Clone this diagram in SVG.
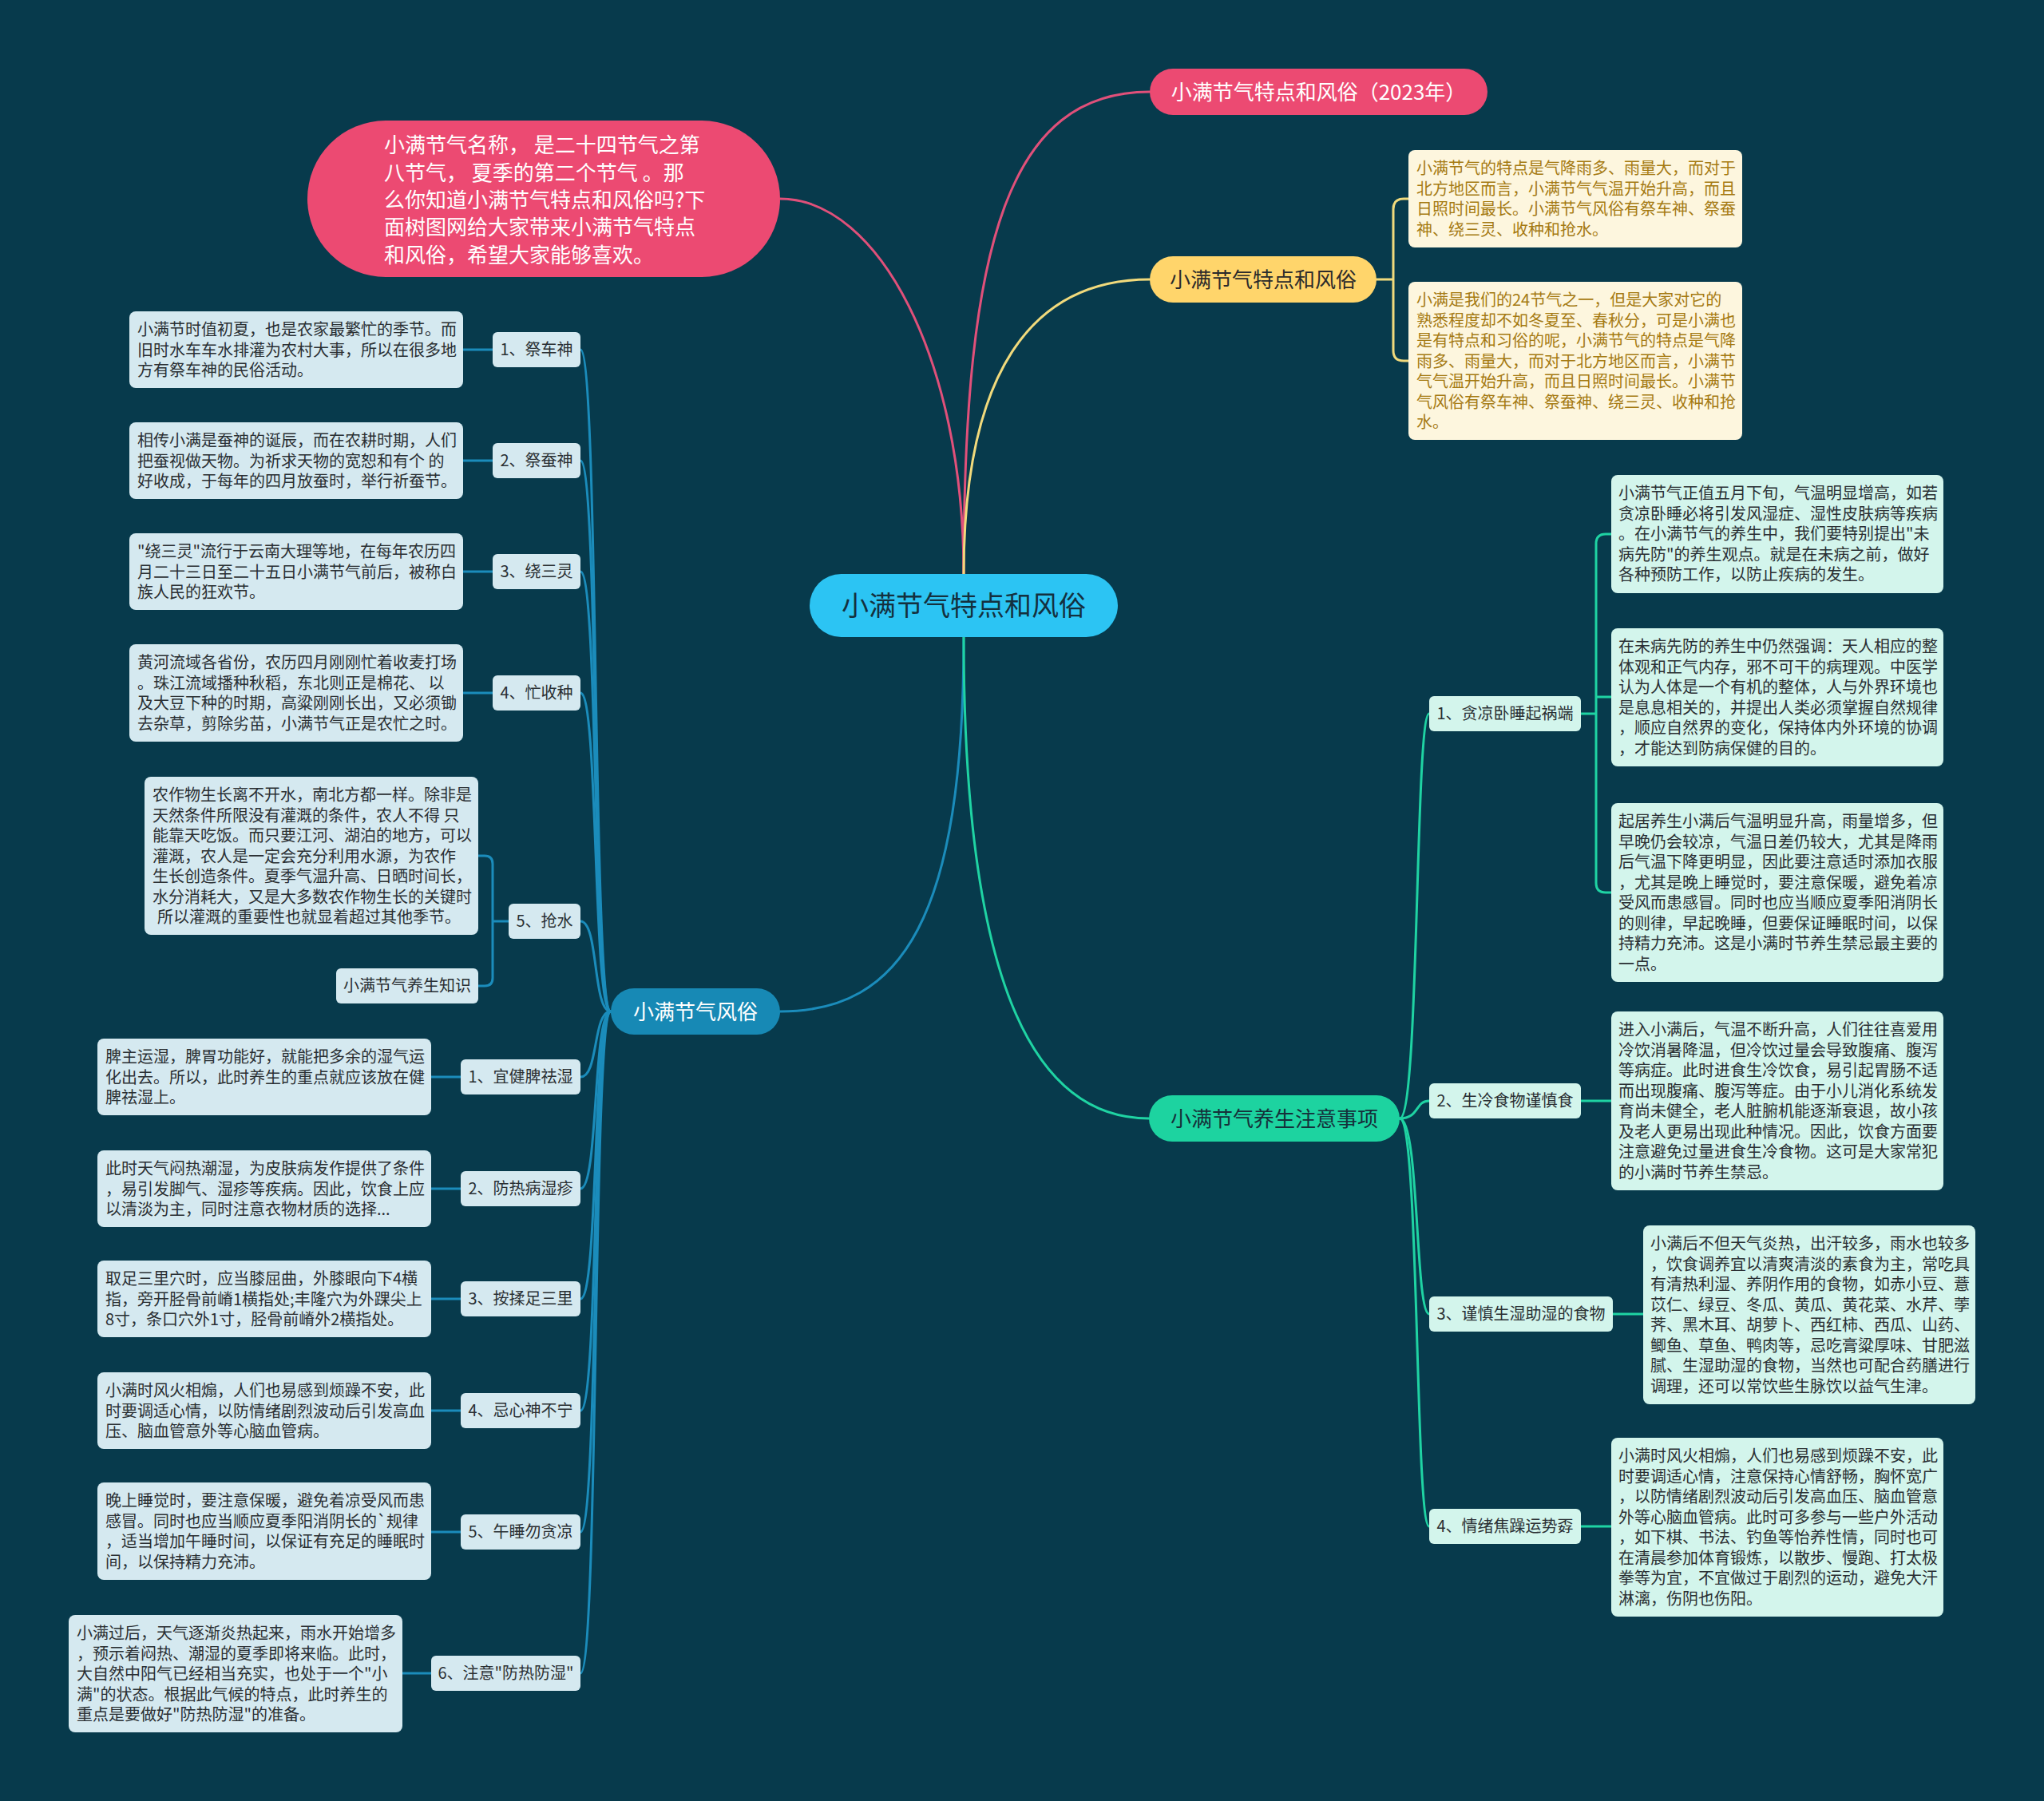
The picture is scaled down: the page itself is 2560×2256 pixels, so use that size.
<svg xmlns="http://www.w3.org/2000/svg" width="2560" height="2256" viewBox="0 0 2560 2256">
<style>
text{font-family:"Noto Sans CJK SC","Noto Sans",sans-serif;}
.t{font-size:20px;fill:#2a2f33;}
.tc{font-size:20px;fill:#2a2f33;text-anchor:middle;}
.yt{font-size:20px;fill:#a57a12;}
.lb{fill:#d5e9f0;}
.gb{fill:#d3f5ec;}
.yb{fill:#fdf6de;}
.c{fill:none;stroke-width:3;stroke-linecap:round;}
.cb{stroke:#1b8cbb;}
.cg{stroke:#1fd3a3;}
.cy{stroke:#f1da7c;}
.cp{stroke:#e0507a;}
.big{font-size:26px;text-anchor:middle;}
</style>
<rect x="0" y="0" width="2560" height="2256" fill="#073a4c"/>

<g id="connectors">
  <path class="c cp" d="M1207 719 C1207 300 1265 115 1440 115"/>
  <path class="c cp" d="M1207 719 C1207 450 1100 249 977 249"/>
  <path class="c cy" d="M1207 719 C1207 470 1290 350 1440 350"/>
  <path class="c cb" d="M1207 798 C1207 1150 1130 1267 977 1267"/>
  <path class="c cg" d="M1207 798 C1207 1220 1290 1401 1439 1401"/>
  <!-- yellow bracket -->
  <path class="c cy" d="M1724 350 H1745 M1764 249 H1758 Q1745 249 1745 262 V439 Q1745 452 1758 452 H1764"/>
  <!-- left branches -->
  <path class="c cb" d="M765 1267 C742 1267 750 438 727 438"/>
  <path class="c cb" d="M765 1267 C742 1267 750 577 727 577"/>
  <path class="c cb" d="M765 1267 C742 1267 750 716 727 716"/>
  <path class="c cb" d="M765 1267 C742 1267 750 868 727 868"/>
  <path class="c cb" d="M765 1267 C742 1267 750 1154 727 1154"/>
  <path class="c cb" d="M765 1267 C742 1267 750 1349 727 1349"/>
  <path class="c cb" d="M765 1267 C742 1267 750 1489 727 1489"/>
  <path class="c cb" d="M765 1267 C742 1267 750 1627 727 1627"/>
  <path class="c cb" d="M765 1267 C742 1267 750 1767 727 1767"/>
  <path class="c cb" d="M765 1267 C742 1267 750 1919 727 1919"/>
  <path class="c cb" d="M765 1267 C742 1267 750 2096 727 2096"/>
  <path class="c cb" d="M580 438 H617 M580 577 H617 M580 716 H617 M580 868 H617"/>
  <path class="c cb" d="M540 1349 H577 M540 1489 H577 M540 1627 H577 M540 1767 H577 M540 1919 H577 M504 2096 H540"/>
  <path class="c cb" d="M637 1154 H617 M599 1072 H607 Q617 1072 617 1082 V1225 Q617 1235 607 1235 H599"/>
  <!-- right branches -->
  <path class="c cg" d="M1753 1401 C1778 1401 1772 894 1790 894"/>
  <path class="c cg" d="M1753 1401 C1778 1401 1772 1379 1790 1379"/>
  <path class="c cg" d="M1753 1401 C1778 1401 1772 1646 1790 1646"/>
  <path class="c cg" d="M1753 1401 C1778 1401 1772 1912 1790 1912"/>
  <path class="c cg" d="M1980 894 H1999 M2018 669 H2011 Q1999 669 1999 681 V1106 Q1999 1118 2011 1118 H2018 M1999 873 H2018"/>
  <path class="c cg" d="M1980 1379 H2018 M2020 1646 H2058 M1980 1912 H2018"/>
</g>

<g id="root">
  <rect x="1014" y="719" width="386" height="79" rx="39.5" fill="#2cc4f3"/>
  <text x="1207" y="771" font-size="34" text-anchor="middle" fill="#14303e">小满节气特点和风俗</text>
</g>

<g id="intro">
  <rect x="385" y="151" width="592" height="196" rx="98" fill="#ec4a72"/>
  <text font-size="26" fill="#ffffff">
    <tspan x="481" y="191">小满节气名称， 是二十四节气之第</tspan>
    <tspan x="481" y="225.5">八节气， 夏季的第二个节气 。那</tspan>
    <tspan x="481" y="260">么你知道小满节气特点和风俗吗?下</tspan>
    <tspan x="481" y="294">面树图网给大家带来小满节气特点</tspan>
    <tspan x="481" y="328.5">和风俗，希望大家能够喜欢。</tspan>
  </text>
</g>

<g id="n2023">
  <rect x="1440" y="86" width="423" height="58" rx="29" fill="#ec4a72"/>
  <text x="1651.5" y="125" class="big" fill="#ffffff">小满节气特点和风俗（2023年）</text>
</g>

<g id="nyellow">
  <rect x="1440" y="321" width="284" height="58" rx="29" fill="#ffd56b"/>
  <text x="1582" y="359.5" class="big" fill="#2b2b2b">小满节气特点和风俗</text>
</g>
<g id="ya">
  <rect class="yb" x="1764" y="188" width="418" height="122" rx="8"/>
  <text class="yt"><tspan x="1774" y="218">小满节气的特点是气降雨多、雨量大，而对于</tspan><tspan x="1774" y="243.5">北方地区而言，小满节气气温开始升高，而且</tspan><tspan x="1774" y="269">日照时间最长。小满节气风俗有祭车神、祭蚕</tspan><tspan x="1774" y="294.5">神、绕三灵、收种和抢水。</tspan></text>
</g>
<g id="yb">
  <rect class="yb" x="1764" y="353" width="418" height="198" rx="8"/>
  <text class="yt"><tspan x="1774" y="383">小满是我们的24节气之一，但是大家对它的</tspan><tspan x="1774" y="408.5">熟悉程度却不如冬夏至、春秋分，可是小满也</tspan><tspan x="1774" y="434">是有特点和习俗的呢，小满节气的特点是气降</tspan><tspan x="1774" y="459.5">雨多、雨量大，而对于北方地区而言，小满节</tspan><tspan x="1774" y="485">气气温开始升高，而且日照时间最长。小满节</tspan><tspan x="1774" y="510.5">气风俗有祭车神、祭蚕神、绕三灵、收种和抢</tspan><tspan x="1774" y="536">水。</tspan></text>
</g>

<g id="nfengsu">
  <rect x="765" y="1238" width="212" height="58" rx="29" fill="#1789b5"/>
  <text x="871" y="1277" class="big" fill="#ffffff">小满节气风俗</text>
</g>

<g id="nyangsheng">
  <rect x="1439" y="1372" width="314" height="58" rx="29" fill="#1dd3a0"/>
  <text x="1596" y="1411" class="big" fill="#15303a">小满节气养生注意事项</text>
</g>

<!-- left labels -->
<g id="l1"><rect class="lb" x="617" y="416" width="110" height="44" rx="6"/><text class="tc" x="672" y="445">1、祭车神</text></g>
<g id="l2"><rect class="lb" x="617" y="555" width="110" height="44" rx="6"/><text class="tc" x="672" y="584">2、祭蚕神</text></g>
<g id="l3"><rect class="lb" x="617" y="694" width="110" height="44" rx="6"/><text class="tc" x="672" y="723">3、绕三灵</text></g>
<g id="l4"><rect class="lb" x="617" y="846" width="110" height="44" rx="6"/><text class="tc" x="672" y="875">4、忙收种</text></g>
<g id="l5"><rect class="lb" x="637" y="1132" width="90" height="44" rx="6"/><text class="tc" x="682" y="1161">5、抢水</text></g>
<g id="l6"><rect class="lb" x="577" y="1327" width="150" height="44" rx="6"/><text class="tc" x="652" y="1356">1、宜健脾祛湿</text></g>
<g id="l7"><rect class="lb" x="577" y="1467" width="150" height="44" rx="6"/><text class="tc" x="652" y="1496">2、防热病湿疹</text></g>
<g id="l8"><rect class="lb" x="577" y="1605" width="150" height="44" rx="6"/><text class="tc" x="652" y="1634">3、按揉足三里</text></g>
<g id="l9"><rect class="lb" x="577" y="1745" width="150" height="44" rx="6"/><text class="tc" x="652" y="1774">4、忌心神不宁</text></g>
<g id="l10"><rect class="lb" x="577" y="1897" width="150" height="44" rx="6"/><text class="tc" x="652" y="1926">5、午睡勿贪凉</text></g>
<g id="l11"><rect class="lb" x="540" y="2074" width="187" height="44" rx="6"/><text class="tc" x="633.5" y="2103">6、注意"防热防湿"</text></g>

<!-- left detail boxes -->
<g id="b1"><rect class="lb" x="162" y="390" width="418" height="96" rx="8"/>
<text class="t"><tspan x="172" y="420">小满节时值初夏，也是农家最繁忙的季节。而</tspan><tspan x="172" y="445.5">旧时水车车水排灌为农村大事，所以在很多地</tspan><tspan x="172" y="471">方有祭车神的民俗活动。</tspan></text></g>
<g id="b2"><rect class="lb" x="162" y="529" width="418" height="96" rx="8"/>
<text class="t"><tspan x="172" y="559">相传小满是蚕神的诞辰，而在农耕时期，人们</tspan><tspan x="172" y="584.5">把蚕视做天物。为祈求天物的宽恕和有个 的</tspan><tspan x="172" y="610">好收成，于每年的四月放蚕时，举行祈蚕节。</tspan></text></g>
<g id="b3"><rect class="lb" x="162" y="668" width="418" height="96" rx="8"/>
<text class="t"><tspan x="172" y="698">"绕三灵"流行于云南大理等地，在每年农历四</tspan><tspan x="172" y="723.5">月二十三日至二十五日小满节气前后，被称白</tspan><tspan x="172" y="749">族人民的狂欢节。</tspan></text></g>
<g id="b4"><rect class="lb" x="162" y="807" width="418" height="122" rx="8"/>
<text class="t"><tspan x="172" y="837">黄河流域各省份，农历四月刚刚忙着收麦打场</tspan><tspan x="172" y="862.5">。珠江流域播种秋稻，东北则正是棉花、 以</tspan><tspan x="172" y="888">及大豆下种的时期，高粱刚刚长出，又必须锄</tspan><tspan x="172" y="913.5">去杂草，剪除劣苗，小满节气正是农忙之时。</tspan></text></g>
<g id="b5"><rect class="lb" x="181" y="973" width="418" height="198" rx="8"/>
<text class="t"><tspan x="191" y="1003">农作物生长离不开水，南北方都一样。除非是</tspan><tspan x="191" y="1028.5">天然条件所限没有灌溉的条件，农人不得 只</tspan><tspan x="191" y="1054">能靠天吃饭。而只要江河、湖泊的地方，可以</tspan><tspan x="191" y="1079.5">灌溉，农人是一定会充分利用水源，为农作</tspan><tspan x="191" y="1105">生长创造条件。夏季气温升高、日晒时间长，</tspan><tspan x="191" y="1130.5">水分消耗大，又是大多数农作物生长的关键时</tspan><tspan x="197" y="1156">所以灌溉的重要性也就显着超过其他季节。</tspan></text></g>
<g id="b5b"><rect class="lb" x="421" y="1213" width="178" height="44" rx="6"/><text class="tc" x="510" y="1242">小满节气养生知识</text></g>
<g id="b6"><rect class="lb" x="122" y="1301" width="418" height="96" rx="8"/>
<text class="t"><tspan x="132" y="1331">脾主运湿，脾胃功能好，就能把多余的湿气运</tspan><tspan x="132" y="1356.5">化出去。所以，此时养生的重点就应该放在健</tspan><tspan x="132" y="1382">脾祛湿上。</tspan></text></g>
<g id="b7"><rect class="lb" x="122" y="1441" width="418" height="96" rx="8"/>
<text class="t"><tspan x="132" y="1471">此时天气闷热潮湿，为皮肤病发作提供了条件</tspan><tspan x="132" y="1496.5">，易引发脚气、湿疹等疾病。因此，饮食上应</tspan><tspan x="132" y="1522">以清淡为主，同时注意衣物材质的选择...</tspan></text></g>
<g id="b8"><rect class="lb" x="122" y="1579" width="418" height="96" rx="8"/>
<text class="t"><tspan x="132" y="1609">取足三里穴时，应当膝屈曲，外膝眼向下4横</tspan><tspan x="132" y="1634.5">指，旁开胫骨前嵴1横指处;丰隆穴为外踝尖上</tspan><tspan x="132" y="1660">8寸，条口穴外1寸，胫骨前嵴外2横指处。</tspan></text></g>
<g id="b9"><rect class="lb" x="122" y="1719" width="418" height="96" rx="8"/>
<text class="t"><tspan x="132" y="1749">小满时风火相煽，人们也易感到烦躁不安，此</tspan><tspan x="132" y="1774.5">时要调适心情，以防情绪剧烈波动后引发高血</tspan><tspan x="132" y="1800">压、脑血管意外等心脑血管病。</tspan></text></g>
<g id="b10"><rect class="lb" x="122" y="1857" width="418" height="122" rx="8"/>
<text class="t"><tspan x="132" y="1887">晚上睡觉时，要注意保暖，避免着凉受风而患</tspan><tspan x="132" y="1912.5">感冒。同时也应当顺应夏季阳消阴长的`规律</tspan><tspan x="132" y="1938">，适当增加午睡时间，以保证有充足的睡眠时</tspan><tspan x="132" y="1963.5">间，以保持精力充沛。</tspan></text></g>
<g id="b11"><rect class="lb" x="86" y="2023" width="418" height="147" rx="8"/>
<text class="t"><tspan x="96" y="2053">小满过后，天气逐渐炎热起来，雨水开始增多</tspan><tspan x="96" y="2078.5">，预示着闷热、潮湿的夏季即将来临。此时，</tspan><tspan x="96" y="2104">大自然中阳气已经相当充实，也处于一个"小</tspan><tspan x="96" y="2129.5">满"的状态。根据此气候的特点，此时养生的</tspan><tspan x="96" y="2155">重点是要做好"防热防湿"的准备。</tspan></text></g>

<!-- right labels -->
<g id="r1"><rect class="gb" x="1790" y="872" width="190" height="44" rx="6"/><text class="tc" x="1885" y="901">1、贪凉卧睡起祸端</text></g>
<g id="r2"><rect class="gb" x="1790" y="1357" width="190" height="44" rx="6"/><text class="tc" x="1885" y="1386">2、生冷食物谨慎食</text></g>
<g id="r3"><rect class="gb" x="1790" y="1624" width="230" height="44" rx="6"/><text class="tc" x="1905" y="1653">3、谨慎生湿助湿的食物</text></g>
<g id="r4"><rect class="gb" x="1790" y="1890" width="190" height="44" rx="6"/><text class="tc" x="1885" y="1919">4、情绪焦躁运势孬</text></g>

<!-- right detail boxes -->
<g id="ra"><rect class="gb" x="2018" y="595" width="416" height="148" rx="8"/>
<text class="t"><tspan x="2027" y="625">小满节气正值五月下旬，气温明显增高，如若</tspan><tspan x="2027" y="650.5">贪凉卧睡必将引发风湿症、湿性皮肤病等疾病</tspan><tspan x="2027" y="676">。在小满节气的养生中，我们要特别提出"未</tspan><tspan x="2027" y="701.5">病先防"的养生观点。就是在未病之前，做好</tspan><tspan x="2027" y="727">各种预防工作，以防止疾病的发生。</tspan></text></g>
<g id="rb"><rect class="gb" x="2018" y="787" width="416" height="173" rx="8"/>
<text class="t"><tspan x="2027" y="817">在未病先防的养生中仍然强调：天人相应的整</tspan><tspan x="2027" y="842.5">体观和正气内存，邪不可干的病理观。中医学</tspan><tspan x="2027" y="868">认为人体是一个有机的整体，人与外界环境也</tspan><tspan x="2027" y="893.5">是息息相关的，并提出人类必须掌握自然规律</tspan><tspan x="2027" y="919">，顺应自然界的变化，保持体内外环境的协调</tspan><tspan x="2027" y="944.5">，才能达到防病保健的目的。</tspan></text></g>
<g id="rc"><rect class="gb" x="2018" y="1006" width="416" height="224" rx="8"/>
<text class="t"><tspan x="2027" y="1036">起居养生小满后气温明显升高，雨量增多，但</tspan><tspan x="2027" y="1061.5">早晚仍会较凉，气温日差仍较大，尤其是降雨</tspan><tspan x="2027" y="1087">后气温下降更明显，因此要注意适时添加衣服</tspan><tspan x="2027" y="1112.5">，尤其是晚上睡觉时，要注意保暖，避免着凉</tspan><tspan x="2027" y="1138">受风而患感冒。同时也应当顺应夏季阳消阴长</tspan><tspan x="2027" y="1163.5">的则律，早起晚睡，但要保证睡眠时间，以保</tspan><tspan x="2027" y="1189">持精力充沛。这是小满时节养生禁忌最主要的</tspan><tspan x="2027" y="1214.5">一点。</tspan></text></g>
<g id="r2b"><rect class="gb" x="2018" y="1267" width="416" height="224" rx="8"/>
<text class="t"><tspan x="2027" y="1297">进入小满后，气温不断升高，人们往往喜爱用</tspan><tspan x="2027" y="1322.5">冷饮消暑降温，但冷饮过量会导致腹痛、腹泻</tspan><tspan x="2027" y="1348">等病症。此时进食生冷饮食，易引起胃肠不适</tspan><tspan x="2027" y="1373.5">而出现腹痛、腹泻等症。由于小儿消化系统发</tspan><tspan x="2027" y="1399">育尚未健全，老人脏腑机能逐渐衰退，故小孩</tspan><tspan x="2027" y="1424.5">及老人更易出现此种情况。因此，饮食方面要</tspan><tspan x="2027" y="1450">注意避免过量进食生冷食物。这可是大家常犯</tspan><tspan x="2027" y="1475.5">的小满时节养生禁忌。</tspan></text></g>
<g id="r3b"><rect class="gb" x="2058" y="1535" width="416" height="224" rx="8"/>
<text class="t"><tspan x="2067" y="1565">小满后不但天气炎热，出汗较多，雨水也较多</tspan><tspan x="2067" y="1590.5">，饮食调养宜以清爽清淡的素食为主，常吃具</tspan><tspan x="2067" y="1616">有清热利湿、养阴作用的食物，如赤小豆、薏</tspan><tspan x="2067" y="1641.5">苡仁、绿豆、冬瓜、黄瓜、黄花菜、水芹、荸</tspan><tspan x="2067" y="1667">荠、黑木耳、胡萝卜、西红柿、西瓜、山药、</tspan><tspan x="2067" y="1692.5">鲫鱼、草鱼、鸭肉等，忌吃膏粱厚味、甘肥滋</tspan><tspan x="2067" y="1718">腻、生湿助湿的食物，当然也可配合药膳进行</tspan><tspan x="2067" y="1743.5">调理，还可以常饮些生脉饮以益气生津。</tspan></text></g>
<g id="r4b"><rect class="gb" x="2018" y="1801" width="416" height="224" rx="8"/>
<text class="t"><tspan x="2027" y="1831">小满时风火相煽，人们也易感到烦躁不安，此</tspan><tspan x="2027" y="1856.5">时要调适心情，注意保持心情舒畅，胸怀宽广</tspan><tspan x="2027" y="1882">，以防情绪剧烈波动后引发高血压、脑血管意</tspan><tspan x="2027" y="1907.5">外等心脑血管病。此时可多参与一些户外活动</tspan><tspan x="2027" y="1933">，如下棋、书法、钓鱼等怡养性情，同时也可</tspan><tspan x="2027" y="1958.5">在清晨参加体育锻炼，以散步、慢跑、打太极</tspan><tspan x="2027" y="1984">拳等为宜，不宜做过于剧烈的运动，避免大汗</tspan><tspan x="2027" y="2009.5">淋漓，伤阴也伤阳。</tspan></text></g>
</svg>
